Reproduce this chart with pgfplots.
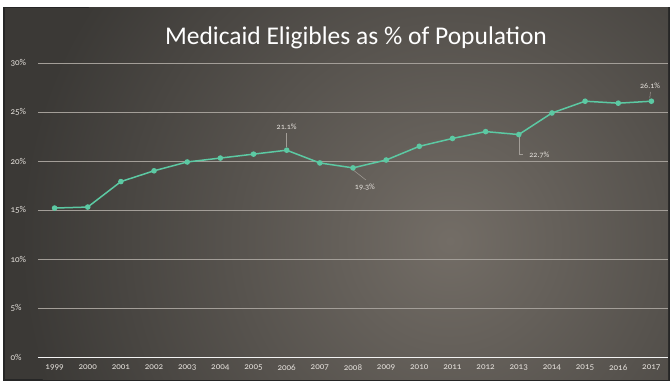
\documentclass[border=0pt]{standalone}
\usepackage{pgfplots}
\pgfplotsset{compat=1.18}
\usepackage{fontspec}
\setmainfont{Carlito}[Numbers=OldStyle]
\definecolor{bgdark}{HTML}{3B3936}
\definecolor{bglight}{HTML}{736D66}
\definecolor{linec}{HTML}{5CC9A3}
\definecolor{gridc}{HTML}{A39E98}
\definecolor{labc}{HTML}{E4E0DB}
\begin{document}
\begin{tikzpicture}
\fill[white] (0pt,0pt) rectangle (670pt,381pt);
\fill[black!85] (3pt,0pt) rectangle (670pt,374pt);
\begin{scope}
\clip (5pt,2pt) rectangle (668pt,373pt);
\fill[bgdark] (5pt,2pt) rectangle (668pt,373pt);
\shade[inner color=bglight, outer color=bgdark] (450pt,140pt) circle (430pt);
\end{scope}
\node[text=white, font=\fontsize{25.5}{28}\selectfont, anchor=center] at (356pt,343pt) {Medicaid Eligibles as \% of Population};
\begin{axis}[
  at={(38pt,24pt)}, anchor=south west,
  scale only axis, width=630pt, height=294pt,
  xmin=1998.5, xmax=2017.5, ymin=0, ymax=30,
  axis line style={draw=none},
  major tick length=0pt,
  xtick={1999,...,2017},
  ytick={0,5,...,30},
  yticklabel={\pgfmathprintnumber{\tick}\%},
  /pgf/number format/assume math mode=true,
  /pgf/number format/1000 sep={},
  ymajorgrids,
  grid style={gridc, line width=0.7pt},
  tick label style={text=labc, font=\fontsize{9}{10}\selectfont},
  yticklabel style={anchor=west, xshift=-31pt},
  xticklabel style={yshift=-4pt},
  clip=false,
]
\draw[white!90!gray, line width=1pt] (axis cs:1998.5,0) -- (axis cs:2017.5,0);
\addplot[linec, line width=1.5pt, mark=*, mark size=2pt, mark options={fill=linec, draw=linec}] coordinates {
(1999,15.2) (2000,15.3) (2001,17.9) (2002,19.0) (2003,19.9) (2004,20.3)
(2005,20.7) (2006,21.1) (2007,19.8) (2008,19.3) (2009,20.1) (2010,21.5)
(2011,22.3) (2012,23.0) (2013,22.7) (2014,24.9) (2015,26.1) (2016,25.9) (2017,26.1)
};
\draw[gridc, line width=0.5pt] (axis cs:2006,21.4) -- (axis cs:2006,22.9);
\node[text=labc, font=\fontsize{8}{9}\selectfont] at (axis cs:2006,23.45) {21.1\%};
\draw[gridc, line width=0.5pt] (axis cs:2008,19.1) -- (axis cs:2008.39,18.06);
\node[text=labc, font=\fontsize{8}{9}\selectfont] at (axis cs:2008.36,17.35) {19.3\%};
\draw[gridc, line width=0.5pt] (axis cs:2013,22.45) -- (axis cs:2013,20.7) -- (axis cs:2013.13,20.7);
\node[text=labc, font=\fontsize{8}{9}\selectfont] at (axis cs:2013.62,20.6) {22.7\%};
\draw[gridc, line width=0.5pt] (axis cs:2016.97,27.05) -- (axis cs:2016.95,26.4);
\node[text=labc, font=\fontsize{8}{9}\selectfont] at (axis cs:2016.96,27.65) {26.1\%};
\end{axis}
\end{tikzpicture}
\end{document}
